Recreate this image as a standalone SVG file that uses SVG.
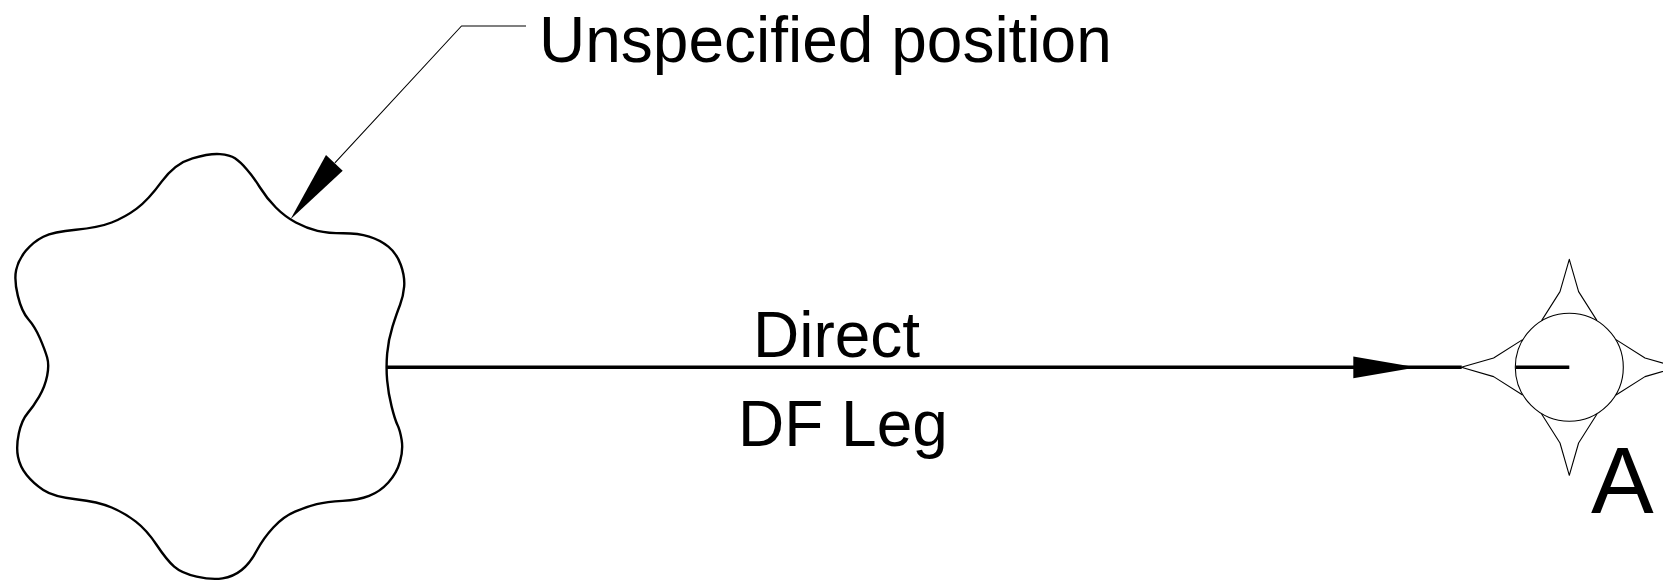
<svg xmlns="http://www.w3.org/2000/svg" width="1663" height="582" viewBox="0 0 1663 582">
<style>
.lbl{font-family:"Liberation Sans",Arial,sans-serif;font-size:64px;fill:#000}
.thin{fill:none;stroke:#000;stroke-width:1.1;stroke-linejoin:round}
.thick{fill:none;stroke:#000;stroke-width:3.6}
.cloud{fill:none;stroke:#000;stroke-width:2.4;stroke-linejoin:round}
.head{fill:#000;stroke:none}
</style>
<rect width="1663" height="582" fill="#fff"/>
<g id="unspecified">
<path class="cloud" d="M220,154.15 Q210,153.3 192.5,158.3 Q175,163.3 161.65,181.65 Q148.3,200 136.65,208.65 Q125,217.3 111.65,222.5 Q98.3,227.7 75.8,229.7 Q53.3,231.7 43.3,236.7 Q33.3,241.7 25.8,250.85 Q18.3,260 16.15,270 Q14,280 17.85,295.85 Q21.7,311.7 28.35,319.2 Q35,326.7 40,338.35 Q45,350 47.15,357.5 Q49.3,365 47.15,375.85 Q45,386.7 39.15,396.7 Q33.3,406.7 27.5,413.35 Q21.7,420 18.85,433.35 Q16,446.7 18,456.7 Q20,466.7 26.65,475 Q33.3,483.3 43.3,490 Q53.3,496.7 75.8,499.2 Q98.3,501.7 111.65,507.5 Q125,513.3 135.85,521.65 Q146.7,530 156.7,545 Q166.7,560 174.2,566.65 Q181.7,573.3 196.7,576.65 Q211.7,580 222.5,578.35 Q233.3,576.7 241.65,570 Q250,563.3 256.65,550.8 Q263.3,538.3 273.3,527.5 Q283.3,516.7 295,511.7 Q306.7,506.7 316.7,504.2 Q326.7,501.7 342.5,500.85 Q358.3,500 369.15,495.85 Q380,491.7 388.35,482.5 Q396.7,473.3 400,461.65 Q403.3,450 401.65,440 Q400,430 397.5,425 Q395,420 391.65,406.65 Q388.3,393.3 387.15,380.3 Q386,367.3 387.15,353.65 Q388.3,340 392.5,326.65 Q396.7,313.3 400,305 Q403.3,296.7 404.15,286.7 Q405,276.7 400.85,265 Q396.7,253.3 388.35,246.65 Q380,240 369.15,236.65 Q358.3,233.3 343.3,233.3 Q328.3,233.3 317.5,230.8 Q306.7,228.3 295.85,222.5 Q285,216.7 275.85,207.5 Q266.7,198.3 260,187.5 Q253.3,176.7 246.65,169.2 Q240,161.7 235,158.35 Q230,155 220,154.15 Z"/>
</g>
<g id="label-unspecified">
<text class="lbl" x="539" y="62">Unspecified position</text>
</g>
<g id="station-A">
<g transform="translate(1569.3,367.3)">
<circle class="thin" cx="0" cy="0" r="54"/>
<path class="thin" d="M-27.7,-46.7 L-9.3,-75.7 L0,-108 L9.3,-75.7 L27.7,-46.7 M-46.7,-27.7 L-75.7,-9.3 L-108,0 L-75.7,9.3 L-46.7,27.7 M-27.7,46.7 L-9.3,75.7 L0,108 L9.3,75.7 L27.7,46.7 M46.7,-27.7 L75.7,-9.3 L108,0 L75.7,9.3 L46.7,27.7"/>
<line class="thick" x1="-53.6" y1="0" x2="0" y2="0"/>
</g>
<text class="lbl" x="1591" y="513" style="font-size:94px">A</text>
</g>
<g id="connectors">
<polyline class="thin" points="334.9,162.8 461.5,26 526,26"/>
<polygon class="head" points="290.5,219.3 326,155 342.7,170.7"/>
<line class="thick" x1="387" y1="367.3" x2="1461.7" y2="367.3"/>
<polygon class="head" points="1353.3,356.5 1410,366.2 1410,368.4 1353.3,378.3"/>
<text class="lbl" x="753" y="357">Direct</text>
<text class="lbl" x="738" y="446">DF Leg</text>
</g>
</svg>
